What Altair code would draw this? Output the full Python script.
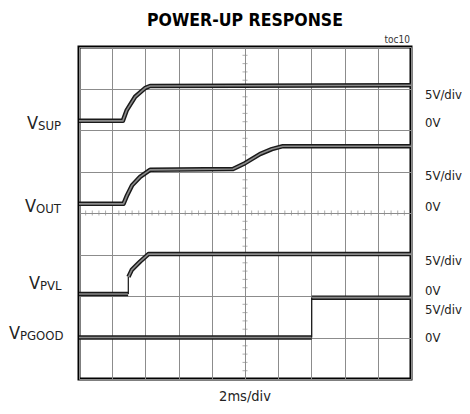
import altair as alt
import pandas as pd

FONT = "DejaVu Sans Condensed, Liberation Sans"

# ---- trace data (x: time divisions 0..10, y: vertical divisions 0..8) ----
vsup_x = [0, 1.32, 1.44, 1.69, 1.99, 2.14, 10]
vsup_y = [6.22, 6.22, 6.48, 6.80, 7.01, 7.06, 7.08]

vout_x = [0, 1.34, 1.45, 1.60, 1.84, 2.14, 4.64, 5.0, 5.45, 5.81, 6.14, 10]
vout_y = [4.22, 4.22, 4.43, 4.67, 4.87, 5.04, 5.06, 5.20, 5.42, 5.54, 5.61, 5.61]

vpvl_lo_x = [0, 1.48]
vpvl_lo_y = [2.05, 2.05]
vpvl_hi_x = [1.49, 1.59, 1.74, 1.84, 2.09, 10]
vpvl_hi_y = [2.46, 2.63, 2.75, 2.83, 3.01, 3.01]

vpgood_lo_x = [0, 7.01]
vpgood_lo_y = [1.0, 1.0]
vpgood_hi_x = [7.01, 10]
vpgood_hi_y = [1.96, 1.96]

# thin vertical edges
edge_x = [1.485, 7.01]
edge_y1 = [2.05, 1.0]
edge_y2 = [2.46, 1.96]

# ---- labels ----
left_main = ["V", "V", "V", "V"]
left_sub = ["SUP", "OUT", "PVL", "PGOOD"]
left_x = [-1.235, -1.295, -1.175, -1.777]
left_y = [6.02, 4.02, 2.17, 0.96]

right_text = ["5V/div", "0V", "5V/div", "0V", "5V/div", "0V", "5V/div", "0V"]
right_y = [6.74, 6.08, 4.80, 4.06, 2.75, 2.02, 1.57, 0.90]
right_x = 10.42

title_text = "POWER-UP RESPONSE"
xlabel_text = "2ms/div"
toc_text = "toc10"

# graticule minor ticks on the centre lines
minor_pos_x = [i / 5 for i in range(1, 50) if i % 5]
minor_pos_y = [i / 5 for i in range(1, 40) if i % 5]

# ---- build tables ----
rows = []
for seg, xs_, ys_ in [("vsup", vsup_x, vsup_y), ("vout", vout_x, vout_y),
                      ("pvl_lo", vpvl_lo_x, vpvl_lo_y), ("pvl_hi", vpvl_hi_x, vpvl_hi_y),
                      ("pg_lo", vpgood_lo_x, vpgood_lo_y), ("pg_hi", vpgood_hi_x, vpgood_hi_y)]:
    for i, (a, b) in enumerate(zip(xs_, ys_)):
        rows.append({"seg": seg, "i": i, "x": a, "y": b})
trace = pd.DataFrame(rows)
edges = pd.DataFrame({"x": edge_x, "y": edge_y1, "y2": edge_y2})
left_df = pd.DataFrame({"m": left_main, "s": left_sub, "x": left_x, "y": left_y})
right_df = pd.DataFrame({"t": right_text, "y": right_y, "x": [right_x] * len(right_text)})
misc_df = pd.DataFrame({"t": [title_text], "x": [5.0], "y": [8.51]})
xl_df = pd.DataFrame({"t": [xlabel_text], "x": [5.0], "y": [-0.54]})
toc_df = pd.DataFrame({"t": [toc_text], "x": [9.97], "y": [8.10]})
mx_df = pd.DataFrame({"x": minor_pos_x, "y": [4.0] * len(minor_pos_x)})
my_df = pd.DataFrame({"x": [5.0] * len(minor_pos_y), "y": minor_pos_y})

xs = alt.Scale(domain=[0, 10], nice=False, zero=False)
ys = alt.Scale(domain=[0, 8], nice=False, zero=False)
xaxis = alt.Axis(values=list(range(11)), grid=True, gridColor="#8c8c8c", gridWidth=1,
                 labels=False, ticks=False, domain=False, title=None)
yaxis = alt.Axis(values=list(range(9)), grid=True, gridColor="#8c8c8c", gridWidth=1,
                 labels=False, ticks=False, domain=False, title=None)
X = alt.X("x:Q", scale=xs, axis=xaxis)
Y = alt.Y("y:Q", scale=ys, axis=yaxis)

mtx = alt.Chart(mx_df).mark_tick(orient="vertical", size=5, thickness=1, color="#8c8c8c").encode(x=X, y=Y)
mty = alt.Chart(my_df).mark_tick(orient="horizontal", size=5, thickness=1, color="#8c8c8c").encode(x=X, y=Y)

thick = alt.Chart(trace).mark_line(color="#1a1a1a", strokeWidth=4.5, strokeCap="butt",
                                   strokeJoin="round").encode(x=X, y=Y, detail="seg:N", order="i:Q")
inner = alt.Chart(trace).mark_line(color="#8a8a8a", strokeWidth=1.6, strokeCap="butt",
                                   strokeJoin="round").encode(x=X, y=Y, detail="seg:N", order="i:Q")
edge = alt.Chart(edges).mark_rule(color="#111111", strokeWidth=1.2).encode(x=X, y=Y, y2="y2:Q")

lmain = alt.Chart(left_df).mark_text(align="right", baseline="alphabetic", font=FONT,
                                     fontSize=18, color="#222222").encode(x=X, y=Y, text="m:N")
lsub = alt.Chart(left_df).mark_text(align="left", baseline="alphabetic", font=FONT,
                                    fontSize=13, color="#222222", dy=1).encode(x=X, y=Y, text="s:N")
rlab = alt.Chart(right_df).mark_text(align="left", baseline="alphabetic", font=FONT,
                                     fontSize=13, color="#222222").encode(x=X, y=Y, text="t:N")
ttl = alt.Chart(misc_df).mark_text(align="center", baseline="alphabetic", font=FONT,
                                   fontSize=17.5, fontWeight="bold", color="black").encode(x=X, y=Y, text="t:N")
xl = alt.Chart(xl_df).mark_text(align="center", baseline="alphabetic", font=FONT,
                                fontSize=14.5, color="#222222").encode(x=X, y=Y, text="t:N")
toc = alt.Chart(toc_df).mark_text(align="right", baseline="alphabetic", font=FONT,
                                  fontSize=10, color="#333333").encode(x=X, y=Y, text="t:N")

chart = alt.layer(mtx, mty, thick, inner, edge, lmain, lsub, rlab, ttl, xl, toc).properties(
    width=332, height=332,
    autosize=alt.AutoSizeParams(type="none"),
    padding={"left": 71, "top": 39, "right": 51, "bottom": 27},
    background="white",
).configure_view(stroke="black", strokeWidth=3)

chart.save("out.html", embed_options={"renderer": "svg", "actions": False})
